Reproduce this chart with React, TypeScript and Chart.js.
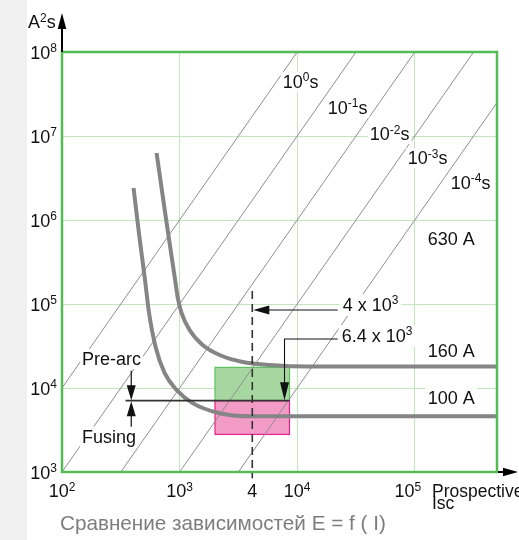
import React, { useEffect, useRef } from 'react';
import { Chart, registerables } from 'chart.js';

Chart.register(...registerables);

// ---- axes ----
const X_MIN = 100;
const X_MAX = 5e5;
const Y_MIN = 1e3;
const Y_MAX = 1e8;
const xDecades = [1e2, 1e3, 1e4, 1e5];
const xDecadeExps = ['2', '3', '4', '5'];
const yDecades = [1e3, 1e4, 1e5, 1e6, 1e7, 1e8];
const yDecadeExps = ['3', '4', '5', '6', '7', '8'];

// ---- constant melting-time lines (I²t = I² · t) ----
const meltTimes = [1, 0.1, 0.01, 0.001, 0.0001];
const meltTimeExps = ['0', '-1', '-2', '-3', '-4'];
const meltLabelI = [7530, 18200, 41400, 87100, 2.02e5];
const meltLabelE = [3.73e7, 1.83e7, 8.95e6, 4.64e6, 2.34e6];

// ---- fuse curves ----
const fuse100I = [406, 452, 508, 550, 625, 745, 942, 1290, 2190, 3940, 12800, 5e5];
const fuse100E = [2.4e6, 6.8e5, 1.93e5, 7.8e4, 3.08e4, 1.51e4, 9.5e3, 6.6e3, 5.0e3, 4.6e3, 4.6e3, 4.6e3];
const fuse160I = [637, 760, 916, 962, 1040, 1216, 1570, 2190, 3435, 5830, 12800, 5e5];
const fuse160E = [6.28e6, 1.12e6, 1.93e5, 1.21e5, 7.8e4, 4.9e4, 3.25e4, 2.47e4, 2.04e4, 1.88e4, 1.8e4, 1.8e4];

// ---- rating labels ----
const ratingLabels = ['630 A', '160 A', '100 A'];
const ratingLabelI = [1.29e5, 1.29e5, 1.29e5];
const ratingLabelE = [5.04e5, 2.34e4, 6.45e3];

// ---- pre-arc / fusing zone ----
const boxI = [2000, 8600];
const greenBoxE = [7.06e3, 1.76e4];
const pinkBoxE = [2.8e3, 7.06e3];
const splitE = 7.06e3;
const splitStartI = 347;
const preArcI = 388;
const preArcTopE = 1.61e4;
const fusingBottomE = 3.25e3;
const preArcLabel = { i: 264, e: 1.88e4 };
const fusingLabel = { i: 251, e: 2.23e3 };

// ---- current markers ----
const markI = 4150;
const markTopE = 1.43e5;
const markBottomE = 840;
const markLabel = '4';
const calloutStartI = 22100;
const callout4E = 8.49e4;
const callout64I = 7800;
const callout64E = 3.83e4;
const callout4Label = { i: 24400, e: 8.26e4 };
const callout64Label = { i: 23900, e: 3.53e4 };

// ---- styles ----
const FONT = '"Liberation Sans", Arial, Helvetica, sans-serif';
const MAIN = 18;
const SUP = 12;
const RISE = 6.5;
const GRID = '#c3e6bd';
const FRAME = '#55bb55';
const MELT = '#8e8e8e';
const FUSE = '#858585';

type Seg = { t: string; sup?: boolean };

function segWidth(ctx: CanvasRenderingContext2D, segs: Seg[], size: number, sup: number) {
  let w = 0;
  for (const s of segs) {
    ctx.font = `${s.sup ? sup : size}px ${FONT}`;
    w += ctx.measureText(s.t).width;
  }
  return w;
}

function drawRich(
  ctx: CanvasRenderingContext2D,
  segs: Seg[],
  x: number,
  y: number,
  o: { align?: 'left' | 'center' | 'right'; size?: number; sup?: number; rise?: number; color?: string; bg?: boolean; pad?: number }
) {
  const size = o.size ?? MAIN;
  const sup = o.sup ?? SUP;
  const rise = o.rise ?? RISE;
  const w = segWidth(ctx, segs, size, sup);
  let left = x;
  if (o.align === 'center') left = x - w / 2;
  if (o.align === 'right') left = x - w;
  if (o.bg) {
    const pad = o.pad ?? 3;
    ctx.fillStyle = '#fff';
    ctx.fillRect(left - pad, y - size * 0.78 - pad, w + 2 * pad, size * 0.78 + pad * 2 + 2);
  }
  ctx.fillStyle = o.color ?? '#111';
  ctx.textAlign = 'left';
  ctx.textBaseline = 'alphabetic';
  let cx = left;
  for (const s of segs) {
    ctx.font = `${s.sup ? sup : size}px ${FONT}`;
    ctx.fillText(s.t, cx, s.sup ? y - rise : y);
    cx += ctx.measureText(s.t).width;
  }
  return w;
}

function arrowHead(ctx: CanvasRenderingContext2D, tx: number, ty: number, dx: number, dy: number, len: number, half: number) {
  const bx = tx - dx * len;
  const by = ty - dy * len;
  ctx.beginPath();
  ctx.moveTo(tx, ty);
  ctx.lineTo(bx - dy * half, by + dx * half);
  ctx.lineTo(bx + dy * half, by - dx * half);
  ctx.closePath();
  ctx.fill();
}

const decorPlugin = {
  id: 'decor',
  beforeDatasetsDraw(chart: any) {
    const { ctx, scales } = chart;
    const x = scales.x;
    const y = scales.y;
    const l = x.getPixelForValue(boxI[0]);
    const r = x.getPixelForValue(boxI[1]);
    ctx.save();
    let t = y.getPixelForValue(greenBoxE[1]);
    let b = y.getPixelForValue(greenBoxE[0]);
    ctx.fillStyle = '#a7d7a1';
    ctx.fillRect(l, t, r - l, b - t);
    ctx.strokeStyle = '#5fc05f';
    ctx.lineWidth = 1.2;
    ctx.strokeRect(l, t, r - l, b - t);
    t = y.getPixelForValue(pinkBoxE[1]);
    b = y.getPixelForValue(pinkBoxE[0]);
    ctx.fillStyle = '#f29bc6';
    ctx.fillRect(l, t, r - l, b - t);
    ctx.strokeStyle = '#e8208a';
    ctx.strokeRect(l, t, r - l, b - t);
    ctx.restore();
  },
  afterDatasetsDraw(chart: any) {
    const { ctx, scales, chartArea: a } = chart;
    const x = scales.x;
    const y = scales.y;
    ctx.save();

    // frame
    ctx.strokeStyle = FRAME;
    ctx.lineWidth = 2.5;
    ctx.strokeRect(a.left, a.top, a.right - a.left, a.bottom - a.top);

    // pre-arc / fusing split line
    const sy = y.getPixelForValue(splitE);
    ctx.strokeStyle = '#333';
    ctx.lineWidth = 1.8;
    ctx.beginPath();
    ctx.moveTo(x.getPixelForValue(splitStartI), sy);
    ctx.lineTo(x.getPixelForValue(boxI[1]), sy);
    ctx.stroke();

    // pre-arc and fusing arrows
    ctx.fillStyle = '#111';
    ctx.strokeStyle = '#111';
    ctx.lineWidth = 1.2;
    const px = x.getPixelForValue(preArcI);
    const pt = y.getPixelForValue(preArcTopE);
    const fb = y.getPixelForValue(fusingBottomE);
    ctx.beginPath();
    ctx.moveTo(px, pt);
    ctx.lineTo(px, sy - 10);
    ctx.moveTo(px, fb);
    ctx.lineTo(px, sy + 10);
    ctx.stroke();
    arrowHead(ctx, px, sy - 0.5, 0, 1, 15, 4.5);
    arrowHead(ctx, px, sy + 0.5, 0, -1, 15, 4.5);

    // dashed marker line
    const mx = x.getPixelForValue(markI);
    ctx.strokeStyle = '#333';
    ctx.lineWidth = 1.6;
    ctx.setLineDash([8, 5]);
    ctx.beginPath();
    ctx.moveTo(mx, y.getPixelForValue(markTopE));
    ctx.lineTo(mx, y.getPixelForValue(markBottomE));
    ctx.stroke();
    ctx.setLineDash([]);

    // callout 4 x 10^3
    const cs = x.getPixelForValue(calloutStartI);
    const c4y = y.getPixelForValue(callout4E);
    ctx.strokeStyle = '#111';
    ctx.lineWidth = 1.1;
    ctx.beginPath();
    ctx.moveTo(cs, c4y);
    ctx.lineTo(mx + 10, c4y);
    ctx.stroke();
    arrowHead(ctx, mx + 1, c4y, -1, 0, 16, 4.5);

    // callout 6.4 x 10^3
    const c64x = x.getPixelForValue(callout64I);
    const c64y = y.getPixelForValue(callout64E);
    ctx.beginPath();
    ctx.moveTo(cs, c64y);
    ctx.lineTo(c64x, c64y);
    ctx.lineTo(c64x, sy - 10);
    ctx.stroke();
    arrowHead(ctx, c64x, sy - 0.5, 0, 1, 18, 4.5);

    // melting-time labels
    meltTimes.forEach((_, k) => {
      drawRich(
        ctx,
        [{ t: '10' }, { t: meltTimeExps[k], sup: true }, { t: 's' }],
        x.getPixelForValue(meltLabelI[k]),
        y.getPixelForValue(meltLabelE[k]),
        { bg: true, pad: 2 }
      );
    });

    // rating labels
    ratingLabels.forEach((s, k) => {
      drawRich(ctx, [{ t: s }], x.getPixelForValue(ratingLabelI[k]), y.getPixelForValue(ratingLabelE[k]), { bg: true, pad: 2 });
    });

    // pre-arc / fusing labels
    drawRich(ctx, [{ t: 'Pre-arc' }], x.getPixelForValue(preArcLabel.i), y.getPixelForValue(preArcLabel.e), { align: 'center', bg: true, pad: 2 });
    drawRich(ctx, [{ t: 'Fusing' }], x.getPixelForValue(fusingLabel.i), y.getPixelForValue(fusingLabel.e), { align: 'center', bg: true, pad: 2 });

    // callout labels
    drawRich(ctx, [{ t: '4 x 10' }, { t: '3', sup: true }], x.getPixelForValue(callout4Label.i), y.getPixelForValue(callout4Label.e), { bg: true, pad: 3 });
    drawRich(ctx, [{ t: '6.4 x 10' }, { t: '3', sup: true }], x.getPixelForValue(callout64Label.i), y.getPixelForValue(callout64Label.e), { bg: true, pad: 3 });

    // y tick labels
    yDecades.forEach((v, k) => {
      drawRich(ctx, [{ t: '10' }, { t: yDecadeExps[k], sup: true }], a.left - 5, y.getPixelForValue(v) + 6.5, { align: 'right' });
    });
    // x tick labels
    xDecades.forEach((v, k) => {
      const last = k === xDecades.length - 1;
      drawRich(ctx, [{ t: '10' }, { t: xDecadeExps[k], sup: true }], x.getPixelForValue(v) - (last ? 7 : 0), a.bottom + 25, { align: 'center' });
    });
    drawRich(ctx, [{ t: markLabel }], mx, a.bottom + 25, { align: 'center' });

    // axis titles
    drawRich(ctx, [{ t: 'A' }, { t: '2', sup: true }, { t: 's' }], 28, 28, {});
    drawRich(ctx, [{ t: 'Prospective' }], x.getPixelForValue(X_MAX) - 65, a.bottom + 25, { size: 17.5 });
    drawRich(ctx, [{ t: 'Isc' }], x.getPixelForValue(X_MAX) - 65, a.bottom + 36.5, { size: 17.5 });

    // axis arrows
    ctx.fillStyle = '#000';
    ctx.strokeStyle = '#000';
    ctx.lineWidth = 2;
    ctx.beginPath();
    ctx.moveTo(a.left, a.top);
    ctx.lineTo(a.left, 26);
    ctx.moveTo(a.right + 1, a.bottom);
    ctx.lineTo(chart.width - 12, a.bottom);
    ctx.stroke();
    arrowHead(ctx, a.left, 13, 0, -1, 16, 4.3);
    arrowHead(ctx, chart.width - 1, a.bottom, 1, 0, 15, 4.3);

    // caption
    drawRich(ctx, [{ t: 'Сравнение зависимостей E = f ( I)' }], 60, 530, { size: 20.7, color: '#7d7d7d' });

    ctx.restore();
  },
};

export default function App() {
  const ref = useRef<HTMLCanvasElement>(null);
  useEffect(() => {
    const canvas = ref.current;
    if (!canvas) return;
    const meltSets = meltTimes.map((t) => ({
      data: [
        { x: X_MIN, y: X_MIN * X_MIN * t },
        { x: X_MAX, y: X_MAX * X_MAX * t },
      ],
      showLine: true,
      borderColor: MELT,
      borderWidth: 1,
      pointRadius: 0,
    }));
    const fuseSet = (I: number[], E: number[]) => ({
      data: I.map((v, k) => ({ x: v, y: E[k] })),
      showLine: true,
      borderColor: FUSE,
      borderWidth: 4,
      pointRadius: 0,
      cubicInterpolationMode: 'monotone' as const,
    });
    const chart = new Chart(canvas, {
      type: 'scatter',
      data: { datasets: [fuseSet(fuse100I, fuse100E), fuseSet(fuse160I, fuse160E), ...meltSets] as any },
      options: {
        animation: false,
        responsive: false,
        maintainAspectRatio: false,
        events: [],
        layout: { padding: { left: 62, top: 52, right: 22, bottom: 68 } },
        plugins: { legend: { display: false }, tooltip: { enabled: false } },
        scales: {
          x: {
            type: 'logarithmic',
            min: X_MIN,
            max: X_MAX,
            ticks: { display: false },
            grid: { color: GRID, lineWidth: 1, drawTicks: false },
            border: { display: false },
            afterBuildTicks: (s: any) => {
              s.ticks = xDecades.map((v) => ({ value: v }));
            },
          },
          y: {
            type: 'logarithmic',
            min: Y_MIN,
            max: Y_MAX,
            ticks: { display: false },
            grid: { color: GRID, lineWidth: 1, drawTicks: false },
            border: { display: false },
            afterBuildTicks: (s: any) => {
              s.ticks = yDecades.map((v) => ({ value: v }));
            },
          },
        },
      },
      plugins: [decorPlugin],
    });
    return () => chart.destroy();
  }, []);
  return (
    <div
      style={{
        position: 'fixed',
        left: 0,
        top: 0,
        width: 519,
        height: 540,
        background: 'linear-gradient(to right, #f0f0f0 0px, #f0f0f0 27px, #ffffff 27px)',
      }}
    >
      <canvas ref={ref} width={519} height={540} style={{ display: 'block', width: 519, height: 540 }} />
    </div>
  );
}
